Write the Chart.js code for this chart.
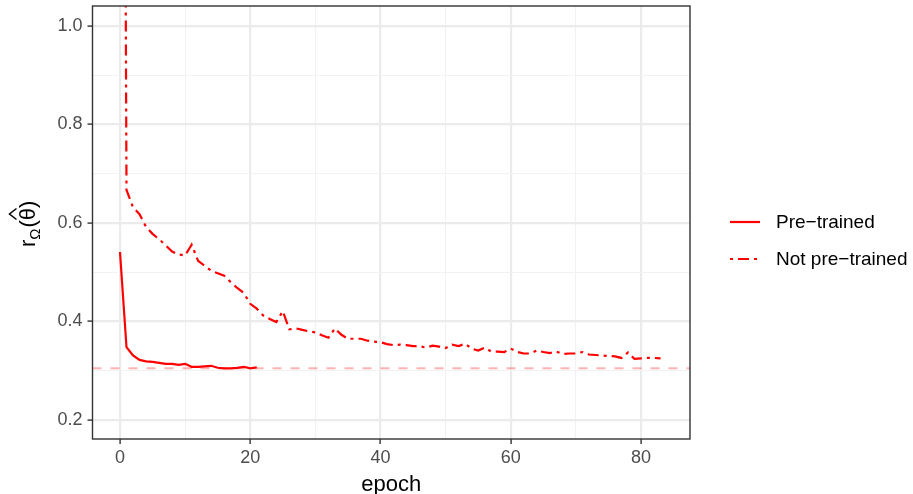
<!DOCTYPE html>
<html>
<head>
<meta charset="utf-8">
<script src="https://cdn.jsdelivr.net/npm/chart.js@4.4.1/dist/chart.umd.min.js"></script>
<style>
  html, body { margin: 0; padding: 0; background: #ffffff; }
  #wrap { width: 913px; height: 494px; position: relative; }
</style>
</head>
<body>
<div id="wrap"><canvas id="lossChart"></canvas></div>
<script>
// epochs and r_Omega(theta hat) values
const preEpochs = [0, 1, 2, 3, 4, 5, 6, 7, 8, 9, 10, 11, 12, 13, 14, 15, 16, 17, 18, 19, 20, 21];
const preTrained = [0.541, 0.348, 0.331, 0.322, 0.319, 0.318, 0.316, 0.314, 0.314, 0.312, 0.314, 0.308,
                    0.308, 0.309, 0.310, 0.306, 0.305, 0.305, 0.306, 0.308, 0.305, 0.307];

const notPreEpochs = [0, 1, 2, 3, 4, 5, 6, 7, 8, 9, 10, 11, 12, 13, 14, 15, 16, 17, 18, 19, 20,
                      21, 22, 23, 24, 25, 26, 27, 28, 29, 30, 31, 32, 33, 34, 35, 36, 37, 38, 39, 40,
                      41, 42, 43, 44, 45, 46, 47, 48, 49, 50, 51, 52, 53, 54, 55, 56, 57, 58, 59, 60,
                      61, 62, 63, 64, 65, 66, 67, 68, 69, 70, 71, 72, 73, 74, 75, 76, 77, 78, 79, 80,
                      81, 82, 83];
const notPreTrained = [4.0, 0.667, 0.632, 0.618, 0.592, 0.578, 0.567, 0.555, 0.542, 0.536, 0.534,
                       0.556, 0.523, 0.513, 0.503, 0.498, 0.493, 0.480, 0.468, 0.458, 0.436,
                       0.426, 0.412, 0.405, 0.399, 0.421, 0.384, 0.386, 0.383, 0.380, 0.378,
                       0.372, 0.367, 0.386, 0.373, 0.365, 0.365, 0.365, 0.361, 0.359, 0.358,
                       0.354, 0.352, 0.353, 0.352, 0.350, 0.350, 0.347, 0.351, 0.349, 0.346,
                       0.353, 0.350, 0.355, 0.345, 0.341, 0.347, 0.339, 0.339, 0.338, 0.345,
                       0.338, 0.335, 0.335, 0.341, 0.338, 0.336, 0.339, 0.334, 0.335, 0.335,
                       0.338, 0.333, 0.332, 0.331, 0.330, 0.329, 0.326, 0.337, 0.324, 0.325,
                       0.326, 0.326, 0.325];

const refLevel = 0.305;

const seriesNames = ["Pre\u2212trained", "Not pre\u2212trained"];

const xMajorTicks = [0, 20, 40, 60, 80];
const xMinorTicks = [10, 30, 50, 70];
const yMajorTicks = [0.2, 0.4, 0.6, 0.8, 1.0];
const yMinorTicks = [0.3, 0.5, 0.7, 0.9];

const xMin = -4.22, xMax = 87.52;
const yMin = 0.1614, yMax = 1.0406;

const FONT = "'Liberation Sans', Arial, sans-serif";
const RED = "#ff0000";
const DOTDASH = [3, 5, 11, 5];

const isMajor = (list, v) => list.some(m => Math.abs(m - v) < 1e-6);

function toPoints(xs, ys) {
    return xs.map((x, i) => ({ x: x, y: ys[i] }));
}

// panel border, axis titles and legend (ggplot style)
const decorations = {
    id: "decorations",
    afterDatasetsDraw(chart) {
        const { ctx, chartArea } = chart;
        ctx.save();
        ctx.strokeStyle = "#333333";
        ctx.lineWidth = 1.4;
        ctx.strokeRect(chartArea.left, chartArea.top,
                       chartArea.right - chartArea.left, chartArea.bottom - chartArea.top);
        ctx.restore();
    },
    afterDraw(chart) {
        const { ctx, chartArea } = chart;
        ctx.save();
        ctx.fillStyle = "#000000";

        // x title
        ctx.font = "22px " + FONT;
        ctx.textAlign = "center";
        ctx.textBaseline = "alphabetic";
        ctx.fillText("epoch", (chartArea.left + chartArea.right) / 2, 491);

        // y title: r_Omega(theta hat), rotated
        ctx.save();
        ctx.translate(35, 247);
        ctx.rotate(-Math.PI / 2);
        ctx.textAlign = "left";
        ctx.font = "22px " + FONT;
        ctx.fillText("r", 0, 0);
        let u = ctx.measureText("r").width;
        ctx.font = "15px " + FONT;
        ctx.fillText("\u03A9", u, 5);
        u += ctx.measureText("\u03A9").width + 1;
        ctx.font = "22px " + FONT;
        ctx.fillText("(\u03B8)", u, 0);
        const thetaMid = u + ctx.measureText("(").width + ctx.measureText("\u03B8").width / 2;
        ctx.strokeStyle = "#000000";
        ctx.lineWidth = 1.5;
        ctx.beginPath();
        ctx.moveTo(thetaMid - 5.5, -18.5);
        ctx.lineTo(thetaMid, -25.5);
        ctx.lineTo(thetaMid + 5.5, -18.5);
        ctx.stroke();
        ctx.restore();

        // legend
        const rows = [
            { label: seriesNames[0], dash: [], y: 222 },
            { label: seriesNames[1], dash: DOTDASH, y: 259 }
        ];
        rows.forEach(r => {
            ctx.strokeStyle = RED;
            ctx.lineWidth = 2.2;
            ctx.setLineDash(r.dash);
            ctx.beginPath();
            ctx.moveTo(730, r.y);
            ctx.lineTo(760, r.y);
            ctx.stroke();
            ctx.setLineDash([]);
            ctx.font = "19px " + FONT;
            ctx.textAlign = "left";
            ctx.textBaseline = "middle";
            ctx.fillStyle = "#000000";
            ctx.fillText(r.label, 776, r.y + 1);
        });
        ctx.restore();
    }
};

const ctx = document.getElementById("lossChart").getContext("2d");

new Chart(ctx, {
    type: "line",
    data: {
        datasets: [
            {
                label: seriesNames[0],
                data: toPoints(preEpochs, preTrained),
                borderColor: RED,
                borderWidth: 2.2,
                pointRadius: 0,
                tension: 0,
                clip: 0
            },
            {
                label: seriesNames[1],
                data: toPoints(notPreEpochs, notPreTrained),
                borderColor: RED,
                borderWidth: 2.2,
                borderDash: DOTDASH,
                pointRadius: 0,
                tension: 0,
                clip: 0
            },
            {
                label: "reference",
                data: [{ x: xMin, y: refLevel }, { x: xMax, y: refLevel }],
                borderColor: "rgba(255, 0, 0, 0.3)",
                borderWidth: 2,
                borderDash: [9, 9],
                pointRadius: 0,
                clip: 0
            }
        ]
    },
    options: {
        responsive: true,
        maintainAspectRatio: false,
        animation: false,
        devicePixelRatio: 1,
        layout: { padding: { left: 0, top: 6, right: 223, bottom: 0 } },
        plugins: {
            legend: { display: false },
            tooltip: { enabled: false }
        },
        scales: {
            x: {
                type: "linear",
                min: xMin,
                max: xMax,
                afterBuildTicks: scale => {
                    scale.ticks = [...xMajorTicks, ...xMinorTicks].sort((a, b) => a - b).map(v => ({ value: v }));
                },
                afterFit: scale => {
                    scale.height = 55;
                    scale.paddingLeft = 0;
                    scale.paddingRight = 0;
                },
                border: { display: false },
                grid: {
                    color: c => isMajor(xMajorTicks, c.tick.value) ? "#ebebeb" : "#f2f2f2",
                    lineWidth: c => isMajor(xMajorTicks, c.tick.value) ? 2.2 : 1.1,
                    tickColor: c => isMajor(xMajorTicks, c.tick.value) ? "#333333" : "rgba(0,0,0,0)",
                    tickWidth: 1.4,
                    tickLength: 5,
                    drawTicks: true
                },
                ticks: {
                    autoSkip: false,
                    maxRotation: 0,
                    padding: 3,
                    color: "#4d4d4d",
                    font: { family: FONT, size: 18 },
                    callback: v => isMajor(xMajorTicks, v) ? String(v) : ""
                }
            },
            y: {
                type: "linear",
                min: yMin,
                max: yMax,
                afterBuildTicks: scale => {
                    scale.ticks = [...yMajorTicks, ...yMinorTicks].sort((a, b) => a - b).map(v => ({ value: v }));
                },
                afterFit: scale => {
                    scale.width = 92.5;
                    scale.paddingTop = 0;
                    scale.paddingBottom = 0;
                },
                border: { display: false },
                grid: {
                    color: c => isMajor(yMajorTicks, c.tick.value) ? "#ebebeb" : "#f2f2f2",
                    lineWidth: c => isMajor(yMajorTicks, c.tick.value) ? 2.2 : 1.1,
                    tickColor: c => isMajor(yMajorTicks, c.tick.value) ? "#333333" : "rgba(0,0,0,0)",
                    tickWidth: 1.4,
                    tickLength: 5,
                    drawTicks: true
                },
                ticks: {
                    autoSkip: false,
                    padding: 5,
                    color: "#4d4d4d",
                    font: { family: FONT, size: 18 },
                    callback: v => isMajor(yMajorTicks, v) ? v.toFixed(1) : ""
                }
            }
        }
    },
    plugins: [decorations]
});
</script>
</body>
</html>
